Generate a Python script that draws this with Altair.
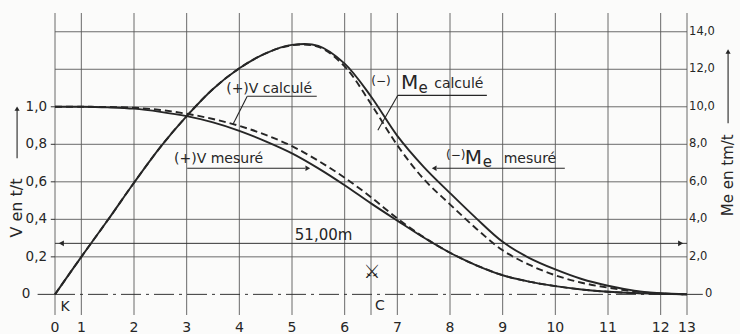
import altair as alt
import pandas as pd

# Stations along the span (section units; the two end sections are half-width)
station_pos = [0, 0.5, 1.5, 2.5, 3.5, 4.5, 5.5, 6.5, 7.5, 8.5, 9.5, 10.5, 11.5, 12]
station_lbl = ["0", "1", "2", "3", "4", "5", "6", "7", "8", "9", "10", "11", "12", "13"]
mid_pos = 6.0  # centre line C

# Left scale (V, t/t) and right scale (Me, tm/t)
v_ticks = [0.2, 0.4, 0.6, 0.8, 1.0]
v_tick_lbl = ["0,2", "0,4", "0,6", "0,8", "1,0"]
h_grid = [0.2, 0.4, 0.6, 0.8, 1.0, 1.2, 1.4]
me_ticks = [2, 4, 6, 8, 10, 12, 14]
me_tick_lbl = ["2,0", "4,0", "6,0", "8,0", "10,0", "12,0", "14,0"]

# Curves
u = [0, 0.5, 1, 1.5, 2, 2.5, 3, 3.5, 4, 4.5, 5, 5.5, 6, 6.5, 7, 7.5, 8, 8.5, 9,
     9.5, 10, 10.5, 11, 11.5, 12]
v_mesure = [1.0, 1.0, 0.997, 0.99, 0.973, 0.95, 0.917, 0.872, 0.816, 0.752, 0.672,
            0.582, 0.485, 0.393, 0.303, 0.222, 0.155, 0.102, 0.068, 0.044, 0.026,
            0.014, 0.007, 0.003, 0.0]
v_calcule = [1.0, 1.0, 0.999, 0.995, 0.983, 0.963, 0.935, 0.898, 0.85, 0.79, 0.712,
             0.622, 0.518, 0.405, 0.305, 0.222, 0.155, 0.102, 0.068, 0.044, 0.026,
             0.014, 0.007, 0.003, 0.0]
me_mesure = [0, 2.0, 3.95, 5.95, 7.85, 9.5, 10.95, 12.05, 12.85, 13.3, 13.25, 12.3,
             10.55, 8.45, 6.8, 5.4, 4.05, 2.8, 1.95, 1.33, 0.82, 0.46, 0.2, 0.06, 0]
me_calcule = [0, 2.0, 3.95, 5.95, 7.85, 9.5, 10.95, 12.05, 12.85, 13.28, 13.2, 12.15,
              10.15, 7.95, 6.15, 4.8, 3.5, 2.35, 1.58, 1.02, 0.62, 0.36, 0.16, 0.04, 0]

span_label = "51,00m"
span_level = 0.272

INK = "#262626"
GRID = "#5a5a5a"
FONT = "DejaVu Sans"

XS = alt.Scale(domain=[0, 12], nice=False, zero=False)
VS = alt.Scale(domain=[-0.11, 1.5], nice=False, zero=False)
MS = alt.Scale(domain=[-1.1, 15], nice=False, zero=False)


def X(f):
    return alt.X(f, type="quantitative", scale=XS, axis=None)


def YV(f):
    return alt.Y(f, type="quantitative", scale=VS, axis=None)


def YM(f):
    return alt.Y(f, type="quantitative", scale=MS, axis=None)


def segs(rows, color=GRID, width=0.9, dash=None):
    df = pd.DataFrame(rows, columns=["x0", "x1", "y0", "y1"])
    kw = dict(color=color, strokeWidth=width)
    if dash:
        kw["strokeDash"] = dash
    return alt.Chart(df).mark_rule(**kw).encode(
        x=X("x0"), x2="x1", y=YV("y0"), y2="y1")


def texts(rows, size=13, align="center", baseline="middle", angle=None):
    df = pd.DataFrame(rows, columns=["x", "y", "t"])
    kw = dict(font=FONT, fontSize=size, align=align, baseline=baseline, color=INK)
    if angle is not None:
        kw["angle"] = angle
    return alt.Chart(df).mark_text(**kw).encode(x=X("x"), y=YV("y"), text="t:N")


def heads(rows, shape, size=34):
    df = pd.DataFrame(rows, columns=["x", "y"])
    return alt.Chart(df).mark_point(shape=shape, filled=True, size=size,
                                    color=INK, opacity=1).encode(x=X("x"), y=YV("y"))


# grid
vgrid = segs([(p, p, -0.11, 1.5) for p in station_pos + [mid_pos]])
hgrid = segs([(0, 12, h, h) for h in h_grid])
zero_line = segs([(0, 12, 0, 0)], color="#333", width=1.0, dash=[20, 5, 3, 5])
zero_ticks = segs([(-0.33, 0, 0, 0), (12, 12.3, 0, 0)], color="#333", width=1.0)
small_ticks = segs([(-0.08, 0, t, t) for t in v_ticks], color="#333", width=1.0)

# span dimension
dim_line = segs([(0, 12, span_level, span_level)], color="#333", width=1.0)
dim_heads = heads([(0.12, span_level)], "triangle-left") + heads([(11.88, span_level)], "triangle-right")
dim_text = texts([(5.1, span_level + 0.045, span_label)], size=15)

# curves
cv = pd.DataFrame({"u": u, "vm": v_mesure, "vc": v_calcule,
                   "mm": me_mesure, "mc": me_calcule})
line_kw = dict(color=INK, strokeWidth=1.9, interpolate="catmull-rom")
v_m = alt.Chart(cv).mark_line(**line_kw).encode(x=X("u"), y=YV("vm"))
v_c = alt.Chart(cv).mark_line(strokeDash=[7, 4], **line_kw).encode(x=X("u"), y=YV("vc"))
m_m = alt.Chart(cv).mark_line(**line_kw).encode(x=X("u"), y=YM("mm"))
m_c = alt.Chart(cv).mark_line(strokeDash=[7, 4], **line_kw).encode(x=X("u"), y=YM("mc"))

# curve labels, underlines and leaders
lab_lines = segs([
    (3.65, 4.97, 1.056, 1.056), (3.65, 3.38, 1.056, 0.907),   # (+)V calculé
    (2.51, 4.75, 0.672, 0.672),                              # (+)V mesuré
    (6.51, 8.2, 1.061, 1.061), (6.51, 6.13, 1.061, 0.875),    # (-)Me calculé
    (7.25, 9.68, 0.672, 0.672),                              # (-)Me mesuré
], color=INK, width=1.1)
lab_heads = heads([(4.8, 0.672)], "triangle-right", 30) + heads([(7.2, 0.672)], "triangle-left", 30)
lab_text = (
    texts([(3.25, 1.072, "(+)V calculé"), (2.26, 0.70, "(+)V mesuré")],
          size=14, align="left", baseline="alphabetic")
    + texts([(6.19, 1.14, "(−)"), (7.61, 0.745, "(−)")], size=12)
    + texts([(6.57, 1.093, "M"), (7.78, 0.693, "M")], size=20, align="left", baseline="alphabetic")
    + texts([(6.9, 1.075, "e"), (8.12, 0.68, "e")], size=15, align="left", baseline="alphabetic")
    + texts([(7.2, 1.099, "calculé"), (8.52, 0.699, "mesuré")], size=14, align="left", baseline="alphabetic")
)

# axis labels
left_lbl = texts([(-0.15, t, s) for t, s in zip(v_ticks, v_tick_lbl)] + [(-0.47, 0, "0")],
                 size=13.5, align="right")
right_lbl = alt.Chart(pd.DataFrame({"y": me_ticks + [0], "t": me_tick_lbl + ["0"],
                                    "x": [12.04] * len(me_ticks) + [12.34]})).mark_text(
    font=FONT, fontSize=11.5, align="left", baseline="middle", color=INK).encode(
    x=X("x"), y=YM("y"), text="t:N")
x_lbl = texts([(p, -0.18, s) for p, s in zip(station_pos, station_lbl)], size=14)
marks_lbl = texts([(0.19, -0.068, "K"), (6.17, -0.064, "C")], size=14) + texts(
    [(6.02, 0.12, "⚔")], size=19)

# axis titles with arrows
titles = texts([(-0.72, 0.46, "V en  t/t")], size=16, angle=270) + texts(
    [(12.78, 0.635, "Me en  tm/t")], size=15, angle=270)
title_arrows = segs([(-0.72, -0.72, 0.725, 0.985), (12.78, 12.78, 0.912, 1.29)],
                    color=INK, width=1.1)
title_heads = heads([(-0.72, 0.99), (12.78, 1.295)], "triangle-up", 26)

v_layer = alt.layer(
    vgrid, hgrid, zero_line, zero_ticks, small_ticks, dim_line, dim_heads, dim_text,
    v_m, v_c, lab_lines, lab_heads, lab_text, left_lbl, x_lbl, marks_lbl,
    titles, title_arrows, title_heads,
)
m_layer = alt.layer(m_m, m_c, right_lbl)

chart = alt.layer(v_layer, m_layer).resolve_scale(y="independent").properties(
    width=632, height=302,
    padding={"left": 55, "top": 13, "right": 53, "bottom": 19},
    autosize=alt.AutoSizeParams(type="none"),
    background="#fbfbfa",
).configure_view(stroke=None)

chart.save("out.html", embed_options={"renderer": "svg", "actions": False})
